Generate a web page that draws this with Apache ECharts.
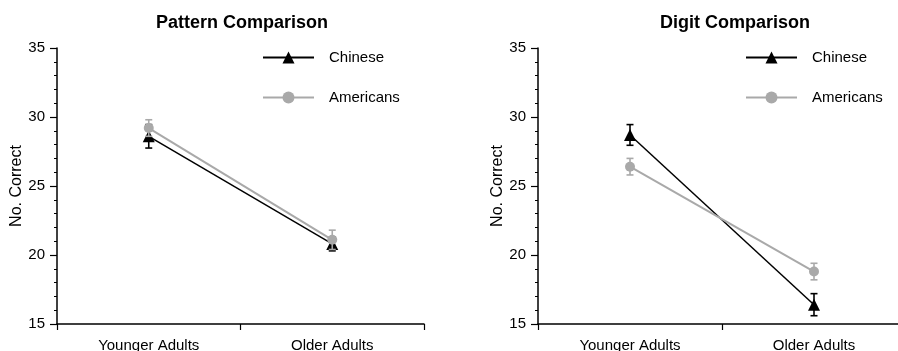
<!DOCTYPE html>
<html>
<head>
<meta charset="utf-8">
<script src="https://cdn.jsdelivr.net/npm/echarts@6/dist/echarts.min.js"></script>
<style>html,body{margin:0;padding:0;background:#fff}#c{width:898px;height:351px}</style>
</head>
<body>
<div id="c"></div>
<script>
var categories = ['Younger Adults', 'Older Adults'];
var yTicks = [15, 20, 25, 30, 35];
var patternChinese = [28.6, 20.8];
var patternChineseErr = [0.85, 0.5];
var patternAmericans = [29.2, 21.1];
var patternAmericansErr = [0.6, 0.7];
var digitChinese = [28.7, 16.4];
var digitChineseErr = [0.75, 0.8];
var digitAmericans = [26.4, 18.8];
var digitAmericansErr = [0.6, 0.6];

var FONT = 'Liberation Sans, Arial, Helvetica, sans-serif';
var BLACK = '#000000';
var GRAY = '#a9a9a9';

function errData(vals, errs) {
  return vals.map(function (v, i) { return [i, v - errs[i], v + errs[i]]; });
}
function errSeries(idx, vals, errs, color, z) {
  return {
    type: 'custom', xAxisIndex: idx, yAxisIndex: idx, z: z, silent: true,
    data: errData(vals, errs),
    renderItem: function (params, api) {
      var x = api.value(0);
      var lo = api.coord([x, api.value(1)]);
      var hi = api.coord([x, api.value(2)]);
      var w = 3.5;
      var st = { stroke: color, lineWidth: 1.6 };
      return {
        type: 'group',
        children: [
          { type: 'line', shape: { x1: lo[0], y1: lo[1], x2: hi[0], y2: hi[1] }, style: st },
          { type: 'line', shape: { x1: lo[0] - w, y1: lo[1], x2: lo[0] + w, y2: lo[1] }, style: st },
          { type: 'line', shape: { x1: hi[0] - w, y1: hi[1], x2: hi[0] + w, y2: hi[1] }, style: st }
        ]
      };
    }
  };
}
function lineSeries(idx, name, vals, color, symbol, size, width, z) {
  return {
    type: 'line', name: name, xAxisIndex: idx, yAxisIndex: idx, z: z,
    data: vals, symbol: symbol, symbolSize: size,
    lineStyle: { color: color, width: width },
    itemStyle: { color: color },
    emphasis: { disabled: true }
  };
}
function xAxis(idx) {
  return {
    type: 'category', gridIndex: idx, data: categories, boundaryGap: true,
    axisLine: { lineStyle: { color: '#000', width: 1.5 } },
    axisTick: { show: true, length: 6, lineStyle: { color: '#000', width: 1.2 } },
    axisLabel: { color: '#000', fontSize: 15, fontFamily: FONT, margin: 14 },
    splitLine: { show: false }
  };
}
function yAxis(idx) {
  return {
    type: 'value', gridIndex: idx, min: yTicks[0], max: yTicks[yTicks.length - 1], interval: 5,
    name: 'No. Correct', nameLocation: 'middle', nameGap: 29,
    nameTextStyle: { color: '#000', fontSize: 16, fontFamily: FONT },
    axisLine: { show: true, lineStyle: { color: '#000', width: 1.5 } },
    axisTick: { show: true, length: 7, lineStyle: { color: '#000', width: 1.2 } },
    minorTick: { show: true, splitNumber: 5, length: 3, lineStyle: { color: '#000', width: 1 } },
    axisLabel: { color: '#000', fontSize: 15, fontFamily: FONT, margin: 12 },
    splitLine: { show: false }, minorSplitLine: { show: false }
  };
}
function legend(left) {
  return {
    orient: 'vertical', left: left, top: 45, itemWidth: 51, itemHeight: 15, itemGap: 25,
    data: ['Chinese', 'Americans'], selectedMode: false,
    textStyle: { color: '#000', fontSize: 15, fontFamily: FONT, padding: [0, 0, 0, 10] }
  };
}

var option = {
  animation: false,
  backgroundColor: '#fff',
  title: [
    { text: 'Pattern Comparison', left: 237, top: 9, textAlign: 'center',
      textStyle: { fontSize: 18, fontWeight: 'bold', color: '#000', fontFamily: FONT } },
    { text: 'Digit Comparison', left: 730, top: 9, textAlign: 'center',
      textStyle: { fontSize: 18, fontWeight: 'bold', color: '#000', fontFamily: FONT } }
  ],
  legend: [legend(257), legend(740)],
  grid: [
    { left: 57, top: 48, width: 367, height: 276, containLabel: false, outerBoundsMode: 'none' },
    { left: 538, top: 48, width: 368, height: 276, containLabel: false, outerBoundsMode: 'none' }
  ],
  xAxis: [xAxis(0), xAxis(1)],
  yAxis: [yAxis(0), yAxis(1)],
  series: [
    errSeries(0, patternChinese, patternChineseErr, BLACK, 3),
    lineSeries(0, 'Chinese', patternChinese, BLACK, 'triangle', 12, 1.5, 4),
    errSeries(0, patternAmericans, patternAmericansErr, GRAY, 5),
    lineSeries(0, 'Americans', patternAmericans, GRAY, 'circle', 10, 2, 6),
    errSeries(1, digitChinese, digitChineseErr, BLACK, 3),
    lineSeries(1, 'Chinese', digitChinese, BLACK, 'triangle', 12, 1.5, 4),
    errSeries(1, digitAmericans, digitAmericansErr, GRAY, 5),
    lineSeries(1, 'Americans', digitAmericans, GRAY, 'circle', 10, 2, 6)
  ]
};
var chart = echarts.init(document.getElementById('c'), null, { renderer: 'canvas' });
chart.setOption(option);
</script>
</body>
</html>
